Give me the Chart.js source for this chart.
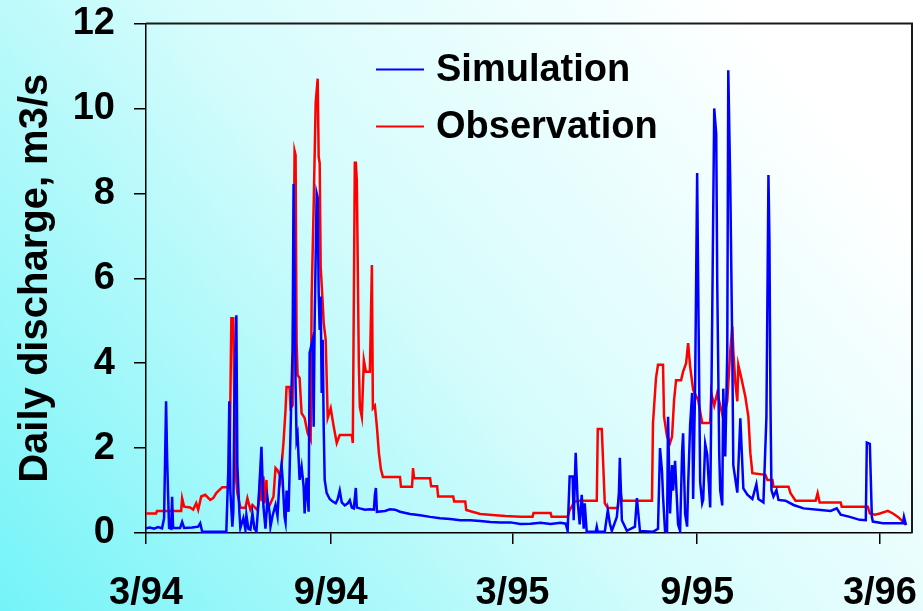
<!DOCTYPE html>
<html>
<head>
<meta charset="utf-8">
<script src="https://cdn.jsdelivr.net/npm/chart.js@4"></script>
<style>
  html, body { margin: 0; padding: 0; }
  canvas { display: block; }
</style>
</head>
<body>
<canvas id="dischargeChart" width="923" height="611"></canvas>
<script>
// x values are days since 1 March 1994
const tickDays = [0, 184, 365, 549, 731];
const tickLabels = ["3/94", "9/94", "3/95", "9/95", "3/96"];

const simDays = [0, 4, 8, 12, 16, 18, 20, 21, 22, 23, 25, 26, 27, 34, 36, 38, 46, 52, 54, 56,
    80, 82, 83, 84, 86, 87, 88, 90, 91, 93, 94, 97, 99, 100, 102, 104, 106, 108, 110, 112,
    115, 117, 119, 121, 123, 124, 126, 129, 131, 133, 135, 136, 138, 139, 140, 142, 143, 145, 146, 147,
    148, 149, 150, 151, 153, 155, 157, 158, 160, 162, 163, 166, 167, 168, 170, 171, 172, 173, 174, 175,
    176, 177, 178, 180, 183, 186, 189, 191, 193, 195, 198, 201, 203, 205, 207, 209, 210, 213, 218, 223,
    227, 228, 229, 230, 238, 243, 248, 253, 263, 273, 283, 293, 303, 313, 323, 333, 343, 353, 363, 373,
    383, 393, 403, 413, 418, 420, 422, 425, 426, 428, 430, 432, 434, 436, 437, 439, 448, 449, 450, 457,
    460, 462, 464, 469, 471, 472, 474, 479, 487, 489, 492, 505, 510, 512, 514, 515, 517, 519, 520, 522,
    524, 525, 527, 529, 530, 532, 534, 535, 537, 539, 540, 542, 544, 545, 547, 549, 550, 552, 554, 555,
    557, 559, 560, 562, 564, 566, 568, 569, 571, 572, 574, 575, 577, 579, 580, 582, 584, 585, 589, 592,
    594, 595, 599, 604, 608, 610, 615, 618, 620, 621, 622, 623, 625, 628, 630, 637, 645, 655, 672, 682,
    688, 692, 701, 711, 717, 718, 721, 723, 724, 734, 754, 755, 757];
const simValues = [0.11, 0.13, 0.1, 0.14, 0.11, 0.35, 3.1, 1.8, 0.9, 0.12, 0.1, 0.85, 0.12, 0.12, 0.26, 0.12, 0.13, 0.15, 0.23, 0.03,
    0.03, 1.5, 3.1, 1.0, 0.15, 0.5, 3.0, 5.13, 1.6, 0.5, 0.12, 0.35, 0.08, 0.42, 0.1, 0.08, 0.46, 0.1, 0.04, 0.7,
    2.03, 0.62, 0.1, 0.82, 0.5, 0.15, 0.4, 0.66, 0.4, 1.25, 1.6, 1.3, 0.38, 0.25, 1.0, 0.5, 1.4, 3.44, 4.3, 8.22,
    6.0, 3.5, 2.19, 2.3, 1.25, 1.56, 1.1, 0.46, 1.3, 0.5, 4.24, 4.55, 2.5, 5.0, 8.0, 7.9, 5.65, 4.78, 5.57, 3.3,
    4.55, 2.5, 1.25, 0.94, 0.8, 0.74, 0.7, 0.8, 1.0, 0.72, 0.65, 0.7, 0.77, 0.6, 0.58, 1.06, 0.6, 0.58, 0.55, 0.56,
    0.55, 0.9, 1.06, 0.5, 0.52, 0.56, 0.55, 0.5, 0.45, 0.42, 0.38, 0.35, 0.33, 0.3, 0.3, 0.28, 0.26, 0.25, 0.25, 0.21,
    0.22, 0.24, 0.21, 0.24, 0.22, 0.05, 1.33, 1.33, 0.3, 1.89, 0.73, 0.2, 0.9, 0.1, 0.7, 0.03, 0.03, 0.15, 0.03, 0.03,
    0.54, 0.23, 0.05, 0.38, 0.9, 1.77, 0.3, 0.05, 0.15, 0.82, 0.05, 0.03, 0.1, 2.0, 1.45, 0.86, 0.05, 0.03, 2.74, 0.46,
    1.6, 1.0, 1.7, 0.7, 0.2, 0.05, 1.9, 2.35, 0.45, 0.15, 1.1, 2.55, 3.3, 0.8, 3.5, 8.48, 5.9, 1.2, 0.7, 0.78,
    2.1, 1.85, 1.4, 0.6, 5.1, 10.0, 9.4, 5.9, 1.85, 1.0, 0.65, 3.4, 1.8, 4.3, 10.9, 8.2, 4.3, 1.6, 0.95, 2.7,
    1.6, 1.05, 0.9, 0.8, 1.15, 0.8, 0.72, 2.74, 8.43, 6.9, 3.1, 1.01, 0.86, 1.01, 0.78, 0.76, 0.66, 0.58, 0.54, 0.52,
    0.58, 0.43, 0.38, 0.31, 0.3, 2.13, 2.1, 0.38, 0.27, 0.23, 0.23, 0.38, 0.19];

const obsDays = [0, 10, 11, 35, 36, 38, 44, 47, 50, 52, 55, 59, 64, 67, 70, 76, 83, 85, 87, 88,
    90, 91, 94, 99, 101, 104, 106, 111, 112, 114, 115, 117, 118, 120, 121, 124, 127, 129, 131, 133,
    134, 137, 139, 140, 143, 144, 146, 148, 149, 150, 151, 153, 155, 158, 161, 164, 165, 167, 169, 171,
    172, 173, 174, 176, 177, 179, 181, 184, 187, 190, 193, 205, 206, 208, 209, 210, 212, 213, 215, 217,
    219, 223, 225, 226, 228, 230, 232, 234, 236, 253, 254, 265, 266, 267, 283, 284, 290, 291, 306, 307,
    318, 319, 325, 333, 348, 358, 373, 385, 386, 403, 404, 420, 422, 427, 432, 449, 450, 454, 457, 460,
    470, 472, 474, 504, 505, 508, 510, 515, 516, 519, 522, 524, 526, 528, 533, 535, 538, 540, 542, 545,
    550, 554, 562, 563, 566, 569, 572, 575, 579, 582, 584, 585, 587, 589, 590, 593, 597, 600, 602, 604,
    617, 619, 624, 625, 640, 642, 647, 667, 669, 671, 692, 693, 719, 721, 726, 731, 739, 744, 749, 754,
    757];
const obsValues = [0.46, 0.46, 0.52, 0.52, 0.82, 0.62, 0.6, 0.55, 0.7, 0.55, 0.86, 0.9, 0.78, 0.82, 0.94, 1.08, 1.08, 5.06, 5.06, 3.0,
    1.2, 0.94, 0.6, 0.59, 0.82, 0.55, 0.66, 0.54, 0.7, 1.33, 0.75, 1.33, 0.7, 1.25, 0.54, 0.7, 0.86, 1.53, 1.48, 1.37,
    1.25, 2.15, 2.9, 3.44, 3.44, 2.94, 3.0, 9.0, 8.9, 4.5, 3.72, 3.65, 2.82, 2.71, 2.35, 2.19, 5.57, 7.69, 10.13, 10.7,
    8.86, 8.71, 6.27, 5.42, 4.95, 4.55, 2.71, 2.94, 2.5, 2.12, 2.31, 2.31, 2.12, 8.72, 8.72, 8.3, 4.0, 2.97, 2.73, 4.07,
    3.8, 3.8, 6.31, 2.94, 3.0, 2.5, 1.88, 1.5, 1.32, 1.32, 1.09, 1.09, 1.53, 1.29, 1.29, 1.1, 1.1, 0.86, 0.86, 0.74,
    0.74, 0.54, 0.5, 0.45, 0.42, 0.4, 0.38, 0.38, 0.47, 0.47, 0.38, 0.38, 0.54, 0.74, 0.76, 0.76, 2.45, 2.45, 0.7, 0.59,
    0.59, 1.09, 0.76, 0.76, 2.59, 3.65, 3.96, 3.96, 2.74, 2.27, 2.12, 2.27, 3.13, 3.6, 3.6, 3.8, 4.0, 4.47, 3.92, 3.37,
    3.13, 2.59, 2.59, 3.3, 3.0, 3.3, 3.0, 2.7, 3.1, 4.3, 4.86, 4.3, 3.55, 3.1, 3.96, 3.65, 3.21, 2.74, 1.88, 1.41,
    1.37, 1.25, 1.25, 1.09, 1.09, 0.94, 0.76, 0.76, 0.94, 0.72, 0.72, 0.62, 0.62, 0.46, 0.43, 0.46, 0.52, 0.46, 0.38, 0.27,
    0.19];

const FONT = "'Liberation Sans', Arial, sans-serif";

function toPoints(days, values) {
    return days.map((d, i) => ({ x: d, y: values[i] }));
}

// gradient page background, cyan bottom-left to white top-right
const backgroundPlugin = {
    id: "background",
    beforeDraw(chart) {
        const ctx = chart.ctx;
        const g = ctx.createLinearGradient(0, chart.height, chart.width * 0.8, 0);
        g.addColorStop(0, "#74f4f8");
        g.addColorStop(0.55, "#d6fcfc");
        g.addColorStop(1, "#ffffff");
        ctx.save();
        ctx.fillStyle = g;
        ctx.fillRect(0, 0, chart.width, chart.height);
        ctx.restore();
    }
};

// frame on top/right and the in-plot legend
const frameLegendPlugin = {
    id: "frameLegend",
    afterDraw(chart) {
        const ctx = chart.ctx;
        const a = chart.chartArea;
        ctx.save();
        ctx.strokeStyle = "#1a1a1a";
        ctx.lineWidth = 2;
        ctx.beginPath();
        ctx.moveTo(a.left, a.top);
        ctx.lineTo(a.right, a.top);
        ctx.lineTo(a.right, a.bottom);
        ctx.stroke();

        const x0 = a.left + 230;
        const rows = [a.top + 46, a.top + 103];
        chart.data.datasets.forEach((ds, i) => {
            ctx.strokeStyle = ds.borderColor;
            ctx.lineWidth = 2;
            ctx.beginPath();
            ctx.moveTo(x0, rows[i]);
            ctx.lineTo(x0 + 48, rows[i]);
            ctx.stroke();
            ctx.fillStyle = "#000";
            ctx.font = "bold 38px " + FONT;
            ctx.textBaseline = "middle";
            ctx.textAlign = "left";
            ctx.fillText(ds.label, x0 + 60, rows[i] + 1);
        });
        ctx.restore();
    }
};

const ctx = document.getElementById("dischargeChart").getContext("2d");

new Chart(ctx, {
    type: "line",
    data: {
        datasets: [{
            label: "Simulation",
            data: toPoints(simDays, simValues),
            borderColor: "#0000ff",
            borderWidth: 2.5,
            pointRadius: 0,
            tension: 0
        }, {
            label: "Observation",
            data: toPoints(obsDays, obsValues),
            borderColor: "#ff0000",
            borderWidth: 2.5,
            pointRadius: 0,
            tension: 0
        }]
    },
    options: {
        animation: false,
        responsive: false,
        layout: { padding: { left: 0, right: 11, top: 23.5, bottom: 0 } },
        plugins: {
            legend: { display: false },
            tooltip: { enabled: false }
        },
        scales: {
            x: {
                type: "linear",
                min: 0,
                max: 763,
                afterBuildTicks: (axis) => { axis.ticks = tickDays.map(v => ({ value: v })); },
                afterFit: (scale) => {
                    scale.height = 78;
                    scale.paddingLeft = 0;
                    scale.paddingRight = 0;
                },
                ticks: {
                    autoSkip: false,
                    maxRotation: 0,
                    padding: 27,
                    color: "#000",
                    font: { family: FONT, size: 38, weight: "bold" },
                    callback: (value) => tickLabels[tickDays.indexOf(value)]
                },
                grid: { drawOnChartArea: false, drawTicks: true, tickLength: 11, color: "#000", lineWidth: 1.5 },
                border: { display: true, color: "#000", width: 1.5 }
            },
            y: {
                min: 0,
                max: 12,
                afterFit: (scale) => {
                    scale.width = 146;
                    scale.paddingTop = 0;
                    scale.paddingBottom = 0;
                },
                ticks: {
                    stepSize: 2,
                    padding: 19,
                    color: "#000",
                    font: { family: FONT, size: 38, weight: "bold" }
                },
                grid: { drawOnChartArea: false, drawTicks: true, tickLength: 12, color: "#000", lineWidth: 1.5 },
                border: { display: true, color: "#000", width: 1.5 },
                title: {
                    display: true,
                    text: "Daily discharge, m3/s",
                    color: "#000",
                    padding: { top: 12, bottom: 0 },
                    font: { family: FONT, size: 40, weight: "bold" }
                }
            }
        }
    },
    plugins: [backgroundPlugin, frameLegendPlugin]
});
</script>
</body>
</html>
